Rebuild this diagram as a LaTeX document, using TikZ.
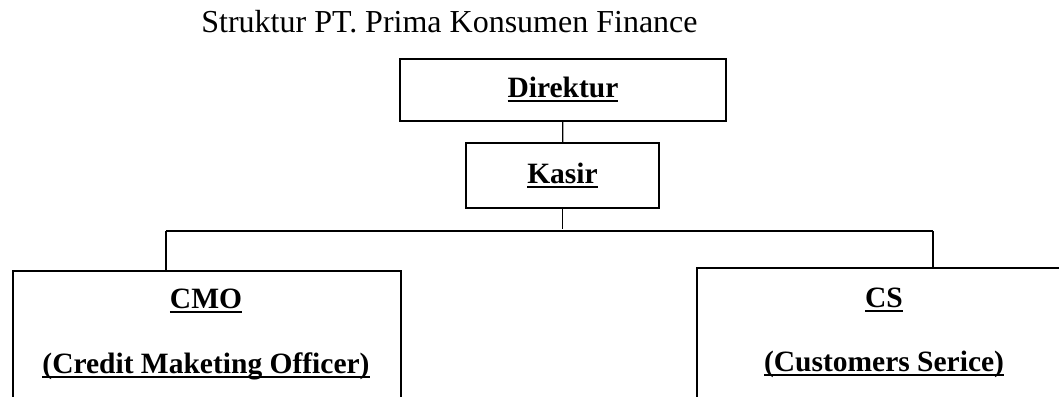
\documentclass[tikz,border=0pt]{standalone}
\usepackage{fontspec}
\setmainfont{Liberation Serif}
\usetikzlibrary{positioning}

\newsavebox{\gbbox}
\newcommand{\garisbawah}[1]{\sbox{\gbbox}{#1}\rlap{\vrule height -2.5pt depth 4.5pt width \wd\gbbox}\usebox{\gbbox}}

\begin{document}
\begin{tikzpicture}[x=1pt,y=-1pt,
  kotak/.style={draw,line width=1.6pt,inner sep=0pt},
  teks/.style={anchor=base,font=\bfseries\fontsize{29.5}{34}\selectfont},
  garis/.style={line width=1.2pt}]

\useasboundingbox (0,0) rectangle (1059,396);
\clip (0,0) rectangle (1059,396);

%-------------------Judul--------------------%
\node[anchor=base,font=\fontsize{32}{38}\selectfont] (judul) at (449.5,33) {Struktur PT. Prima Konsumen Finance};

%-------------------Atas--------------------%
\node[kotak,teks,anchor=center,minimum width=326pt,minimum height=62pt] (direktur) at (563,90) {\garisbawah{Direktur}};
\node[kotak,teks,anchor=center,minimum width=193pt,minimum height=65pt] (kasir) at (562.5,175.5) {\garisbawah{Kasir}};

%-------------------Bawah--------------------%
\node[kotak,anchor=north west,minimum width=388pt,minimum height=200pt] (cmobox) at (12,270) {};
\node[teks] (cmo) at (206,308) {\garisbawah{CMO}};
\node[teks] (cmoket) at (206,373) {\garisbawah{(Credit Maketing Officer)}};

\node[kotak,anchor=north west,minimum width=376pt,minimum height=200pt] (csbox) at (696,267) {};
\node[teks] (cs) at (884,307) {\garisbawah{CS}};
\node[teks] (csket) at (884,371) {\garisbawah{(Customers Serice)}};

%-------------------Garis--------------------%
\coordinate (bus) at (562.5,231);
\coordinate (busL) at (166,231);
\coordinate (busR) at (933,231);

\draw[garis] (direktur) -- (kasir);
\draw[garis] (kasir) -- ([yshift=2pt]bus);
\draw[line width=1.6pt] (busL) -- (busR);
\draw[garis] (busL) -- (busL |- cmobox.north);
\draw[garis] (busR) -- (busR |- csbox.north);
\end{tikzpicture}
\end{document}
